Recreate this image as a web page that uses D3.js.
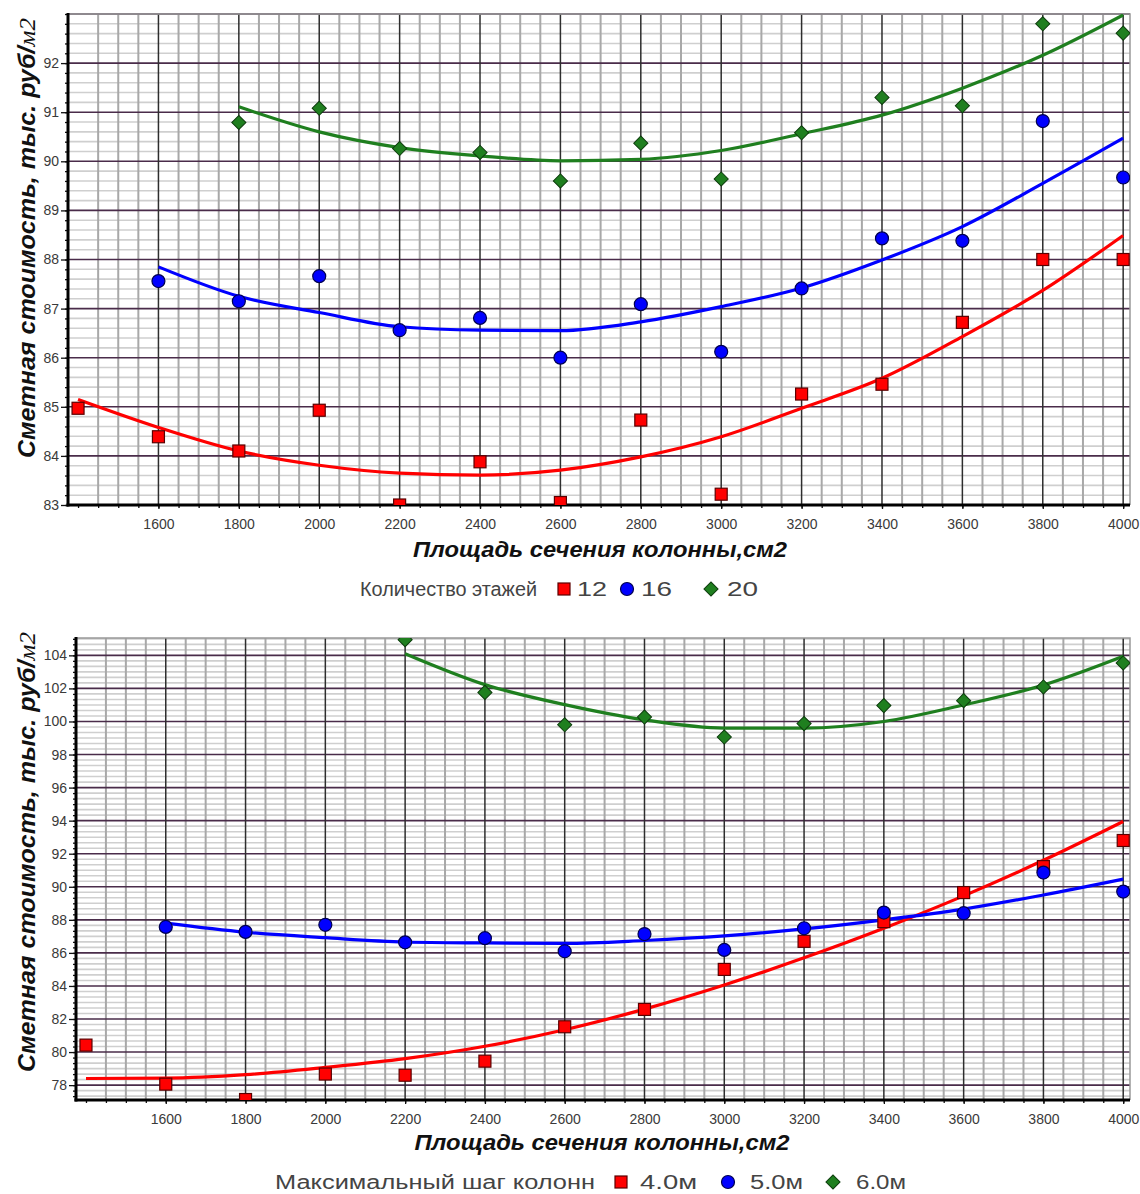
<!DOCTYPE html>
<html>
<head>
<meta charset="utf-8">
<script src="https://cdn.jsdelivr.net/npm/d3@7/dist/d3.min.js"></script>
<style>
  body { margin: 0; background: #fff; }
  text { font-family: "Liberation Sans", Arial, sans-serif; }
</style>
</head>
<body>
<div id="chart"></div>
<script>

// ==========================================================
// DATA
// ==========================================================

var areaFull = [1400, 1600, 1800, 2000, 2200, 2400, 2600, 2800, 3000, 3200, 3400, 3600, 3800, 4000];
var areaFrom1600 = areaFull.slice(1);
var areaFrom1800 = areaFull.slice(2);
var areaFrom2200 = areaFull.slice(4);

var xTickLabels = [1600, 1800, 2000, 2200, 2400, 2600, 2800, 3000, 3200, 3400, 3600, 3800, 4000];

// top panel: number of floors
var floors12 = [84.97, 84.39, 84.10, 84.93, 83.00, 83.88, 83.05, 84.73, 83.22, 85.26, 85.46, 86.72, 88.00, 88.00];
var floors12Trend = [85.15, 84.58, 84.10, 83.81, 83.65, 83.61, 83.71, 83.98, 84.39, 84.97, 85.58, 86.43, 87.37, 88.49];
var floors16 = [87.56, 87.15, 87.66, 86.56, 86.81, 86.00, 87.09, 86.12, 87.41, 88.43, 88.38, 90.82, 89.67];
var floors16Trend = [87.85, 87.25, 86.92, 86.63, 86.56, 86.55, 86.73, 87.04, 87.42, 87.99, 88.67, 89.55, 90.47];
var floors20 = [90.79, 91.08, 90.26, 90.18, 89.60, 90.37, 89.64, 90.58, 91.30, 91.13, 92.80, 92.61];
var floors20Trend = [91.11, 90.60, 90.28, 90.11, 90.01, 90.04, 90.22, 90.56, 90.94, 91.49, 92.16, 92.98];
var topYTicks = [83, 84, 85, 86, 87, 88, 89, 90, 91, 92];

// bottom panel: max column step
var step4 = [80.42, 78.06, 77.13, 78.67, 78.60, 79.45, 81.53, 82.58, 85.00, 86.70, 87.89, 89.65, 91.22, 92.80];
var step4Trend = [78.40, 78.42, 78.63, 79.07, 79.60, 80.35, 81.35, 82.60, 84.06, 85.70, 87.49, 89.45, 91.60, 93.95];
var step5 = [87.57, 87.27, 87.70, 86.64, 86.89, 86.10, 87.14, 86.18, 87.49, 88.44, 88.40, 90.86, 89.71];
var step5Trend = [87.80, 87.25, 86.92, 86.66, 86.60, 86.57, 86.75, 87.03, 87.45, 88.00, 88.65, 89.50, 90.46];
var step6 = [104.95, 101.76, 99.80, 100.27, 99.06, 99.87, 100.96, 101.26, 102.09, 103.54];
var step6Trend = [104.10, 102.23, 101.02, 100.10, 99.60, 99.60, 100.00, 101.00, 102.20, 103.94];
var bottomYTicks = [78, 80, 82, 84, 86, 88, 90, 92, 94, 96, 98, 100, 102, 104];

var yTitle = "Сметная стоимость, тыс. руб/";
var xTitle = "Площадь сечения колонны,см2";

// ==========================================================
// SVG
// ==========================================================

var svgWidth = 1140;
var svgHeight = 1194;

var svg = d3.select("#chart").append("svg")
  .attr("width", svgWidth)
  .attr("height", svgHeight);

var RED = "#ff0000", BLUE = "#0000ff", GREEN = "#1f7f1f";

// ==========================================================
// MARKERS
// ==========================================================

var drawMarker = (sel, shape, color) => {
  if (shape == "square") {
    sel.append("rect").attr("x", -6).attr("y", -6).attr("width", 12).attr("height", 12)
      .attr("fill", color).attr("stroke", "#5a0000").attr("stroke-width", 1.2);
  } else if (shape == "circle") {
    sel.append("circle").attr("r", 6.5)
      .attr("fill", color).attr("stroke", "#000050").attr("stroke-width", 1.2);
  } else {
    sel.append("rect").attr("x", -5).attr("y", -5).attr("width", 10).attr("height", 10)
      .attr("transform", "rotate(45)")
      .attr("fill", color).attr("stroke", "#0d3d0d").attr("stroke-width", 1);
  }
}

// ==========================================================
// PANEL
// ==========================================================

var drawPanel = p => {
  var x = d3.scaleLinear().domain([1375, 4017]).range([p.left, p.right]);
  var y = d3.scaleLinear().domain(p.yDomain).range([p.bottom, p.top]);
  var g = svg.append("g");

  g.append("clipPath").attr("id", p.id)
    .append("rect")
    .attr("x", p.left).attr("y", p.top)
    .attr("width", p.right - p.left).attr("height", p.bottom - p.top);

  // minor grid
  var xMinor = d3.range(1450, 4001, 50).filter(v => v % 200 != 0);
  var yMinor = p.yMinor.filter(v => p.yTicks.indexOf(Math.round(v * 1000) / 1000) < 0);

  g.append("g").selectAll("line").data(yMinor).enter().append("line")
    .attr("x1", p.left).attr("x2", p.right)
    .attr("y1", d => y(d)).attr("y2", d => y(d))
    .attr("stroke", "#cfcfcf").attr("stroke-width", 1.6);

  g.append("g").selectAll("line").data(xMinor).enter().append("line")
    .attr("x1", d => x(d)).attr("x2", d => x(d))
    .attr("y1", p.top).attr("y2", p.bottom)
    .attr("stroke", "#a8a8a8").attr("stroke-width", 2);

  // major grid
  g.append("g").selectAll("line").data(p.yTicks.concat(p.yExtraMajor)).enter().append("line")
    .attr("x1", p.left).attr("x2", p.right)
    .attr("y1", d => y(d)).attr("y2", d => y(d))
    .attr("stroke", "#4a2c4a").attr("stroke-width", 1.6);

  g.append("g").selectAll("line").data(xTickLabels).enter().append("line")
    .attr("x1", d => x(d)).attr("x2", d => x(d))
    .attr("y1", p.top).attr("y2", p.bottom)
    .attr("stroke", "#2e2e2e").attr("stroke-width", 1.5);

  // frame
  g.append("path")
    .attr("d", `M${p.left},${p.top}H${p.right}V${p.bottom}`)
    .attr("fill", "none").attr("stroke", "#999").attr("stroke-width", 1.5);

  // axes
  var yAxisMinor = d3.axisLeft(y).tickValues(p.yMinor).tickSize(3).tickFormat("");
  var yAxis = d3.axisLeft(y).tickValues(p.yTicks).tickSize(7).tickPadding(2).tickFormat(d3.format("d"));
  var xAxisMinor = d3.axisBottom(x).tickValues(d3.range(1400, 4001, 50)).tickSize(3).tickFormat("");
  var xAxis = d3.axisBottom(x).tickValues(xTickLabels).tickSize(4).tickPadding(10).tickFormat(d3.format("d"));

  [yAxisMinor, yAxis].forEach(a => {
    g.append("g").attr("transform", `translate(${p.left},0)`).call(a);
  });
  [xAxisMinor, xAxis].forEach(a => {
    g.append("g").attr("transform", `translate(0,${p.bottom})`).call(a);
  });
  g.selectAll(".domain").remove();
  g.selectAll(".tick line").attr("stroke", "#111").attr("stroke-width", 1.3);
  g.selectAll(".tick text").attr("font-size", 14).attr("fill", "#3a3a3a")
    .style("font-family", "'Liberation Sans', Arial, sans-serif");

  g.append("line").attr("x1", p.left).attr("x2", p.left)
    .attr("y1", p.top - 1).attr("y2", p.bottom + 1.5)
    .attr("stroke", "#000").attr("stroke-width", 3);
  g.append("line").attr("x1", p.left - 1.5).attr("x2", p.right)
    .attr("y1", p.bottom).attr("y2", p.bottom)
    .attr("stroke", "#000").attr("stroke-width", 3);

  // trend lines and points
  var plot = g.append("g").attr("clip-path", `url(#${p.id})`);
  var line = d3.line().x(d => x(d[0])).y(d => y(d[1])).curve(d3.curveMonotoneX);

  p.series.forEach(s => {
    plot.append("path")
      .datum(d3.zip(s.trendX, s.trend))
      .attr("d", line)
      .attr("fill", "none").attr("stroke", s.color).attr("stroke-width", 3.2);
  });
  p.series.forEach(s => {
    plot.selectAll(null).data(d3.zip(s.xs, s.values)).enter().append("g")
      .attr("transform", d => `translate(${x(d[0])},${y(d[1])})`)
      .each(function () { drawMarker(d3.select(this), s.shape, s.color); });
  });

  // y title
  var yt = g.append("text")
    .attr("transform", `translate(35,${p.yTitleY}) rotate(-90)`)
    .attr("text-anchor", "middle")
    .attr("font-size", 23).attr("font-weight", "bold").attr("font-style", "italic")
    .attr("textLength", 440).attr("lengthAdjust", "spacingAndGlyphs")
    .attr("fill", "#111")
    .text(yTitle);
  yt.append("tspan")
    .style("font-family", "'Liberation Serif', 'DejaVu Serif', serif")
    .attr("font-weight", "normal").attr("font-style", "italic").attr("font-size", 23)
    .text("м2");

  // x title
  g.append("text")
    .attr("x", p.xTitleX).attr("y", p.xTitleY)
    .attr("text-anchor", "middle")
    .attr("font-size", 22).attr("font-weight", "bold").attr("font-style", "italic")
    .attr("textLength", p.xTitleLen).attr("lengthAdjust", "spacingAndGlyphs")
    .attr("fill", "#111")
    .text(xTitle);

  // legend
  var lg = g.append("g");
  lg.append("text").attr("x", p.legend.x).attr("y", p.legend.y)
    .attr("font-size", 20).attr("fill", "#444")
    .attr("textLength", p.legend.len).attr("lengthAdjust", "spacingAndGlyphs")
    .text(p.legend.title);
  p.series.forEach((s, i) => {
    var mk = lg.append("g").attr("transform", `translate(${p.legend.mx[i]},${p.legend.y - 7})`);
    drawMarker(mk, s.shape, s.color);
    lg.append("text").attr("x", p.legend.tx[i]).attr("y", p.legend.y)
      .attr("font-size", 20).attr("fill", "#444")
      .attr("textLength", p.legend.tlen[i]).attr("lengthAdjust", "spacingAndGlyphs")
      .text(s.name);
  });
}

// ==========================================================
// BUILD THE TWO PANELS
// ==========================================================

drawPanel({
  id: "clipTop",
  left: 68, right: 1130, top: 14, bottom: 505,
  yDomain: [83, 93],
  yTicks: topYTicks,
  yExtraMajor: [93],
  yMinor: d3.range(0, 51).map(i => Math.round((83 + i * 0.2) * 1000) / 1000),
  yTitleY: 238,
  xTitleX: 600, xTitleY: 557, xTitleLen: 374,
  legend: { title: "Количество этажей", x: 360, y: 596, len: 177,
            mx: [564, 627, 711], tx: [577, 641, 727], tlen: [30, 31, 31] },
  series: [
    { name: "12", shape: "square", color: RED, xs: areaFull, values: floors12, trendX: areaFull, trend: floors12Trend },
    { name: "16", shape: "circle", color: BLUE, xs: areaFrom1600, values: floors16, trendX: areaFrom1600, trend: floors16Trend },
    { name: "20", shape: "diamond", color: GREEN, xs: areaFrom1800, values: floors20, trendX: areaFrom1800, trend: floors20Trend }
  ]
});

drawPanel({
  id: "clipBottom",
  left: 76, right: 1130, top: 638, bottom: 1100,
  yDomain: [77.1, 105.05],
  yTicks: bottomYTicks,
  yExtraMajor: [],
  yMinor: d3.range(-2, 82).map(k => Math.round((78 + k / 3) * 1000) / 1000),
  yTitleY: 852,
  xTitleX: 602, xTitleY: 1150, xTitleLen: 375,
  legend: { title: "Максимальный шаг колонн", x: 275, y: 1189, len: 320,
            mx: [621, 728, 833], tx: [640, 750, 856], tlen: [57, 53, 50] },
  series: [
    { name: "4.0м", shape: "square", color: RED, xs: areaFull, values: step4, trendX: areaFull, trend: step4Trend },
    { name: "5.0м", shape: "circle", color: BLUE, xs: areaFrom1600, values: step5, trendX: areaFrom1600, trend: step5Trend },
    { name: "6.0м", shape: "diamond", color: GREEN, xs: areaFrom2200, values: step6, trendX: areaFrom2200, trend: step6Trend }
  ]
});

</script>
</body>
</html>
